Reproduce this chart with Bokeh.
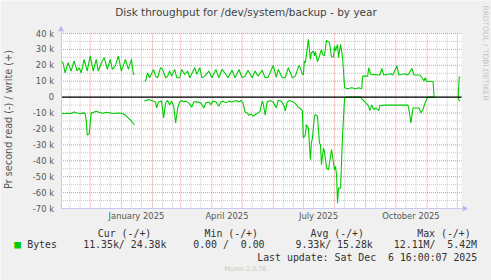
import math
import numpy as np
import pandas as pd
from bokeh.plotting import figure
from bokeh.models import FixedTicker, Label, Range1d, ColumnDataSource
from bokeh.embed import file_html
from bokeh.resources import INLINE

# ---------------- data (daily averages, k bytes / s) ----------------
write_dates = [
    "2024-11-02", "2024-11-04", "2024-11-06", "2024-11-09", "2024-11-12", "2024-11-15",
    "2024-11-18", "2024-11-20", "2024-11-22", "2024-11-25", "2024-11-28", "2024-12-01",
    "2024-12-04", "2024-12-07", "2024-12-09", "2024-12-13", "2024-12-15", "2024-12-18",
    "2024-12-21", "2024-12-23", "2024-12-26", "2024-12-29", "2025-01-01", "2025-01-05",
    "2025-01-08", "2025-01-11", "2025-01-13", "2025-01-14", "2025-01-18",
    "2025-01-24", "2025-01-25", "2025-01-27", "2025-01-29", "2025-02-02", "2025-02-04",
    "2025-02-06", "2025-02-09", "2025-02-11", "2025-02-14", "2025-02-16", "2025-02-18",
    "2025-02-20", "2025-02-23", "2025-02-25", "2025-02-28", "2025-03-02", "2025-03-05",
    "2025-03-08", "2025-03-10", "2025-03-15", "2025-03-17", "2025-03-20", "2025-03-22",
    "2025-03-25", "2025-03-29", "2025-04-01", "2025-04-05", "2025-04-08", "2025-04-11",
    "2025-04-13", "2025-04-17", "2025-04-21", "2025-04-24", "2025-04-28", "2025-05-01",
    "2025-05-04", "2025-05-07", "2025-05-11", "2025-05-14", "2025-05-17", "2025-05-21",
    "2025-05-24", "2025-05-27", "2025-05-31", "2025-06-01", "2025-06-04", "2025-06-06",
    "2025-06-10", "2025-06-13", "2025-06-16", "2025-06-20", "2025-06-23", "2025-06-26",
    "2025-06-27", "2025-06-30", "2025-07-01", "2025-07-02", "2025-07-03", "2025-07-06",
    "2025-07-08", "2025-07-09", "2025-07-11", "2025-07-12", "2025-07-13", "2025-07-15",
    "2025-07-17", "2025-07-19", "2025-07-20", "2025-07-22", "2025-07-24", "2025-07-27",
    "2025-07-29", "2025-07-31", "2025-08-01", "2025-08-02", "2025-08-04", "2025-08-05",
    "2025-08-07", "2025-08-08", "2025-08-09", "2025-08-11", "2025-08-14", "2025-08-18",
    "2025-08-22", "2025-08-25", "2025-08-28", "2025-08-29", "2025-09-03", "2025-09-04",
    "2025-09-06", "2025-09-15", "2025-09-17", "2025-09-19", "2025-09-26", "2025-09-28",
    "2025-10-02", "2025-10-04", "2025-10-10", "2025-10-13", "2025-10-17", "2025-10-19",
    "2025-10-25", "2025-10-27", "2025-10-29", "2025-10-30", "2025-11-01", "2025-11-07",
    "2025-11-08", "2025-11-20", "2025-12-02", "2025-12-03", "2025-12-04",
]
write_k = [
    22.7, 21.6, 15.3, 21.6, 16.4, 22.7,
    16.4, 18.5, 15.3, 23.7, 16.4, 25.9,
    16.4, 23.7, 16.4, 22.7, 24.8, 17.4,
    23.7, 17.4, 19.6, 25.9, 16.4, 23.7,
    17.4, 23.7, 14.3, 14.5, None,
    10.1, 10.1, 15.3, 12.2, 17.4, 13.2,
    12.2, 18.5, 17.4, 12.2, 13.2, 16.4,
    13.2, 17.4, 12.2, 12.2, 17.4, 14.3,
    16.4, 12.2, 18.5, 14.3, 18.5, 12.2,
    13.2, 16.4, 12.2, 17.4, 12.2, 17.4,
    16.0, 12.2, 16.9, 12.2, 17.4, 12.2,
    13.2, 16.9, 12.2, 16.4, 13.2, 16.9,
    12.2, 12.5, 18.5, 19.9, 12.5, 17.4,
    12.2, 12.2, 18.5, 12.2, 13.2, 18.9,
    20.0, 14.3, 14.3, 22.7, 21.6, 36.3,
    23.7, 27.9, 29.0, 25.9, 28.6, 22.3,
    25.9, 30.0, 26.9, 25.9, 35.7, 34.3,
    25.2, 25.2, 32.2, 29.0, 33.2, 24.8,
    33.2, 29.0, 24.8, 5.9, 5.3, 5.9,
    5.3, 5.9, 5.3, 13.2, 13.2, 18.5,
    14.3, 13.9, 18.0, 13.9, 14.7, 13.9,
    19.6, 13.9, 14.7, 13.9, 18.0, 13.9,
    13.9, 12.2, 10.1, 12.2, 9.8, 9.8,
    0.0, None, 0.0, 12.6, 12.6,
]

read_dates = [
    "2024-11-02", "2024-11-05", "2024-11-08", "2024-11-12", "2024-11-15", "2024-11-18",
    "2024-11-21", "2024-11-24", "2024-11-26", "2024-11-27", "2024-11-28", "2024-11-30",
    "2024-12-02", "2024-12-04", "2024-12-07", "2024-12-10", "2024-12-14", "2024-12-17",
    "2024-12-20", "2024-12-24", "2024-12-28", "2025-01-01", "2025-01-05", "2025-01-08",
    "2025-01-11", "2025-01-14", "2025-01-18",
    "2025-01-24", "2025-01-28", "2025-01-31", "2025-02-04", "2025-02-05", "2025-02-07",
    "2025-02-10", "2025-02-12", "2025-02-14", "2025-02-16", "2025-02-18", "2025-02-20",
    "2025-02-22", "2025-02-24", "2025-02-26", "2025-02-28", "2025-03-02", "2025-03-04",
    "2025-03-06", "2025-03-09", "2025-03-12", "2025-03-14", "2025-03-17", "2025-03-21",
    "2025-03-24", "2025-03-26", "2025-03-29", "2025-03-31", "2025-04-02", "2025-04-05",
    "2025-04-08", "2025-04-10", "2025-04-12", "2025-04-15", "2025-04-18", "2025-04-21",
    "2025-04-25", "2025-04-28", "2025-04-30", "2025-05-02", "2025-05-04", "2025-05-06",
    "2025-05-08", "2025-05-10", "2025-05-12", "2025-05-15", "2025-05-17", "2025-05-19",
    "2025-05-21", "2025-05-22", "2025-05-24", "2025-05-26", "2025-05-29", "2025-06-01",
    "2025-06-04", "2025-06-06", "2025-06-09", "2025-06-12", "2025-06-13", "2025-06-15",
    "2025-06-17", "2025-06-21", "2025-06-24", "2025-06-26", "2025-06-29", "2025-06-30",
    "2025-07-01", "2025-07-03", "2025-07-04", "2025-07-06", "2025-07-08", "2025-07-09",
    "2025-07-10", "2025-07-12", "2025-07-13", "2025-07-15", "2025-07-17", "2025-07-18",
    "2025-07-19", "2025-07-21", "2025-07-22", "2025-07-24", "2025-07-26", "2025-07-29",
    "2025-07-30", "2025-08-01", "2025-08-02", "2025-08-03", "2025-08-04", "2025-08-05",
    "2025-08-07", "2025-08-08", "2025-08-09", "2025-08-11", "2025-08-14", "2025-08-27",
    "2025-08-28", "2025-09-01", "2025-09-02", "2025-09-04", "2025-09-05", "2025-09-07",
    "2025-09-09", "2025-09-11", "2025-09-14", "2025-09-15", "2025-09-20", "2025-10-13",
    "2025-10-14", "2025-10-16", "2025-10-18", "2025-10-24", "2025-10-26", "2025-10-28",
    "2025-10-30", "2025-11-01", "2025-11-02", "2025-11-08", "2025-11-20", "2025-12-02",
    "2025-12-03", "2025-12-04",
]
read_k = [
    -9.9, -10.4, -10.1, -10.3, -9.3, -10.0,
    -10.4, -9.9, -10.2, -14.5, -23.8, -23.0,
    -9.9, -9.6, -8.8, -9.7, -10.1, -9.5,
    -9.8, -10.3, -10.0, -10.1, -11.2, -13.2,
    -15.0, -17.5, None,
    -2.5, -1.5, -2.1, -3.0, -6.8, -3.0,
    -2.5, -13.1, -3.6, -2.1, -5.0, -2.5,
    -5.7, -16.2, -6.8, -3.0, -2.1, -3.0,
    -2.5, -3.6, -6.3, -3.0, -3.0, -3.6,
    -6.8, -3.6, -3.0, -4.7, -2.5, -3.0,
    -5.7, -3.0, -2.5, -3.6, -2.5, -3.0,
    -2.1, -3.0, -2.1, -3.6, -9.3, -9.9,
    -11.4, -10.6, -12.0, -10.6, -9.9, -8.8,
    -2.5, -3.6, -11.4, -3.0, -2.1, -3.0,
    -6.8, -2.1, -2.5, -5.7, -8.8, -3.0,
    -2.1, -3.0, -4.7, -6.3, -7.8, -8.5,
    -25.7, -23.6, -17.3, -19.4, -39.4, -28.8,
    -25.7, -12.0, -11.0, -12.0, -28.8, -29.9,
    -42.5, -32.0, -34.1, -44.6, -45.7, -33.0,
    -37.2, -45.7, -43.5, -48.8, -66.7, -57.2,
    -57.2, -40.4, -23.6, -0.4, 0.0, 0.0,
    -0.9, -3.6, -4.2, -5.7, -8.5, -5.0,
    -7.8, -6.8, -8.5, -5.3, -5.0, -5.0,
    -7.8, -16.2, -6.8, -6.8, -9.9, -7.8,
    -3.6, -0.9, 0.0, 0.0, None, 0.0,
    -2.2, -2.2,
]

# axis ticks / labels
y_ticks = [40, 30, 20, 10, 0, -10, -20, -30, -40, -50, -60, -70]
y_tick_labels = ["40 k", "30 k", "20 k", "10 k", "0", "-10 k", "-20 k", "-30 k",
                 "-40 k", "-50 k", "-60 k", "-70 k"]
y_minor = [35, 25, 15, 5, -5, -15, -25, -35, -45, -55, -65]
x_label_dates = ["2025-01-16", "2025-04-16", "2025-07-16", "2025-10-16"]
x_tick_labels = ["January 2025", "April 2025", "July 2025", "October 2025"]
month_starts = ["2024-12-01", "2025-01-01", "2025-02-01", "2025-03-01", "2025-04-01",
                "2025-05-01", "2025-06-01", "2025-07-01", "2025-08-01", "2025-09-01",
                "2025-10-01", "2025-11-01", "2025-12-01"]
minor_dates = []
for m in ["2024-11", "2024-12", "2025-01", "2025-02", "2025-03", "2025-04", "2025-05",
          "2025-06", "2025-07", "2025-08", "2025-09", "2025-10", "2025-11"]:
    minor_dates += [m + "-11", m + "-21"]

legend_headers = ["Cur (-/+)", "Min (-/+)", "Avg (-/+)", "Max (-/+)"]
legend_values = ["11.35k/ 24.38k", "0.00 /\u00a0 0.00", "9.33k/ 15.28k", "12.11M/\u00a0 5.42M"]
series_name = "Bytes"
last_update = "Last update: Sat Dec \u00a06 16:00:07 2025"
title_text = "Disk throughput for /dev/system/backup - by year"
y_title = "Pr second read (-) / write (+)"
y_lo, y_hi = -70, 40

# ---------------- layout (pixel geometry of the rrdtool canvas) ----------------
W, H = 491, 280
PL, PR, PT, PB = 60.5, 461.0, 33.0, 208.0          # graph area edges in px
base_day, base_px, px_per_day = pd.Timestamp("2024-12-01"), 89.7, 1.0055


def px2date(px):
    return base_day + pd.Timedelta(days=(px - base_px) / px_per_day)


k_per_px = (y_hi - y_lo) / (PB - PT)


def py2val(py):
    return y_hi + (PT - py) * k_per_px


def ms(d):
    return int(pd.Timestamp(d).value // 10**6)


plot_left, plot_right = px2date(PL), px2date(PR)

wsrc = ColumnDataSource(dict(x=pd.to_datetime(write_dates), y=np.array(write_k, dtype=float)))
rsrc = ColumnDataSource(dict(x=pd.to_datetime(read_dates), y=np.array(read_k, dtype=float)))

p = figure(width=W, height=H, output_backend="svg", toolbar_location=None, title=None,
           x_range=Range1d(px2date(0), px2date(W)), y_range=Range1d(py2val(H), py2val(0)),
           min_border=0, min_border_left=0, min_border_right=0, min_border_top=0,
           min_border_bottom=0)
p.background_fill_color = "#F0F0F0"
p.border_fill_color = "#F0F0F0"
p.outline_line_color = None
p.xgrid.visible = False
p.ygrid.visible = False

# white canvas of the graph
p.quad(left=[plot_left], right=[plot_right], bottom=[y_lo], top=[y_hi],
       fill_color="#FFFFFF", line_color=None, level="underlay")

# grid (dotted): minor grey first, then major red
mx = pd.to_datetime(minor_dates)
p.segment(x0=mx, x1=mx, y0=[y_lo] * len(mx), y1=[y_hi] * len(mx),
          line_color="#C8C8C8", line_dash="1 1", line_width=1, level="underlay")
p.segment(x0=[plot_left] * len(y_minor), x1=[plot_right] * len(y_minor), y0=y_minor,
          y1=y_minor, line_color="#C8C8C8", line_dash="1 1", line_width=1, level="underlay")
Mx = pd.to_datetime(month_starts)
p.segment(x0=Mx, x1=Mx, y0=[y_lo] * len(Mx), y1=[y_hi] * len(Mx),
          line_color="#F09090", line_dash="1 1", line_width=1, level="underlay")
p.segment(x0=[plot_left] * len(y_ticks), x1=[plot_right] * len(y_ticks), y0=y_ticks,
          y1=y_ticks, line_color="#F09090", line_dash="1 1", line_width=1, level="underlay")

# axes, pinned to the graph edges
xa = p.xaxis[0]
xa.fixed_location = y_lo
xa.bounds = (ms(plot_left), ms(px2date(PR + 2)))
xa.ticker = FixedTicker(ticks=[ms(d) for d in x_label_dates])
xa.major_label_overrides = {ms(d): t for d, t in zip(x_label_dates, x_tick_labels)}
xa.major_tick_line_color = None
xa.minor_tick_line_color = None
xa.major_tick_out = 0
xa.major_tick_in = 0
xa.major_label_standoff = 2
xa.axis_line_color = "#C8C8F0"
xa.major_label_text_font = "DejaVu Sans"
xa.major_label_text_font_size = "8.4px"
xa.major_label_text_color = "#555555"

ya = p.yaxis[0]
ya.fixed_location = ms(plot_left)
ya.bounds = (y_lo, py2val(PT - 3))
ya.ticker = FixedTicker(ticks=y_ticks)
ya.major_label_overrides = {t: l for t, l in zip(y_ticks, y_tick_labels)}
ya.major_tick_line_color = None
ya.minor_tick_line_color = None
ya.major_tick_out = 0
ya.major_tick_in = 0
ya.major_label_standoff = 7
ya.axis_line_color = "#C8C8F0"
ya.major_label_text_font = "DejaVu Sans"
ya.major_label_text_font_size = "8.4px"
ya.major_label_text_color = "#555555"
ya.axis_label = y_title
ya.axis_label_text_font = "DejaVu Sans"
ya.axis_label_text_font_size = "9.7px"
ya.axis_label_text_font_style = "normal"
ya.axis_label_text_color = "#555555"
ya.axis_label_standoff = 16

# axis arrow heads
p.scatter(x=[px2date(PR + 3)], y=[y_lo], marker="triangle", size=6, angle=-math.pi / 2,
          fill_color="#B8B8F0", line_color=None)
p.scatter(x=[plot_left], y=[py2val(PT - 4)], marker="triangle", size=6,
          fill_color="#B8B8F0", line_color=None)

# series
p.line("x", "y", source=wsrc, line_color="#00CC00", line_width=1.1)
p.line("x", "y", source=rsrc, line_color="#00CC00", line_width=1.1)

# zero line across the graph area only, drawn over the series
p.segment(x0=[plot_left], x1=[plot_right], y0=[0], y1=[0], line_color="#000000",
          line_width=1.3)


def lab(text, cx, cy, size, color, font="DejaVu Sans", align="left", angle=0.0):
    return Label(x=cx, y=H - cy, x_units="screen", y_units="screen", text=text,
                 text_font=font, text_font_size=f"{size}px", text_color=color,
                 text_align=align, text_baseline="middle", angle=angle)


p.add_layout(lab(title_text, 245.5, 11.5, 10.5, "#444444", align="center"))
p.add_layout(lab("RRDTOOL / TOBI OETIKER", 485, 5, 7.4, "#C4C4C4", angle=-math.pi / 2))

mono = "DejaVu Sans Mono"
for t, cx in zip(legend_headers, [97.3, 204, 310, 416.7]):
    p.add_layout(lab(t, cx, 232.7, 9.9, "#333333", font=mono))
p.add_layout(lab("\u25a0", 17, 244.3, 11, "#00CC00", font=mono, align="center"))
p.add_layout(lab(series_name, 26.7, 244.3, 9.9, "#333333", font=mono))
for t, cx in zip(legend_values, [82.7, 192.7, 295, 393.3]):
    p.add_layout(lab(t, cx, 244.3, 9.9, "#333333", font=mono))
p.add_layout(lab(last_update, 476.7, 256.7, 9.9, "#333333", font=mono, align="right"))
p.add_layout(lab("Munin 2.0.76", 245, 268.3, 6.4, "#C8C8C8", align="center"))

open("out.html", "w").write(file_html(p, INLINE))
